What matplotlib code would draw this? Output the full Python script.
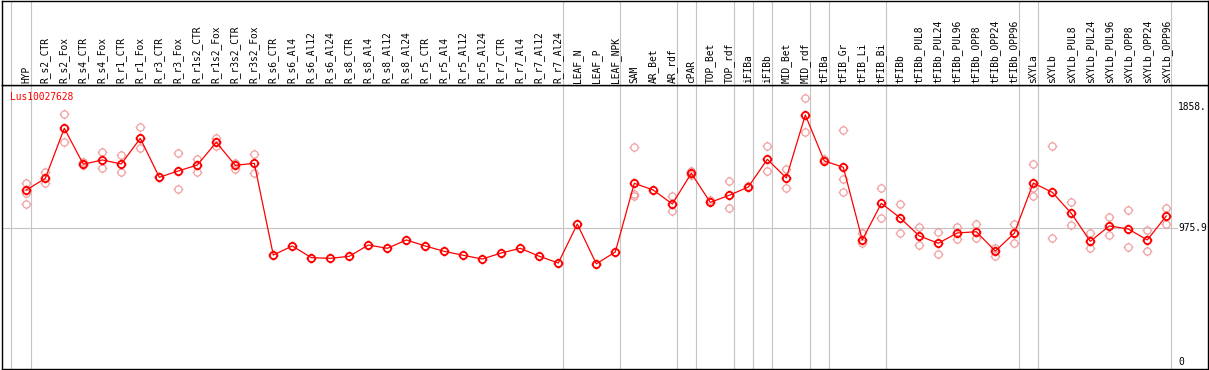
import numpy as np
import matplotlib
matplotlib.use('Agg')
import matplotlib.pyplot as plt
from matplotlib.path import Path

categories = ["HYP", "R_s2_CTR", "R_s2_Fox", "R_s4_CTR", "R_s4_Fox", "R_r1_CTR", "R_r1_Fox",
              "R_r3_CTR", "R_r3_Fox", "R_r1s2_CTR", "R_r1s2_Fox", "R_r3s2_CTR", "R_r3s2_Fox",
              "R_s6_CTR", "R_s6_Al4", "R_s6_Al12", "R_s6_Al24", "R_s8_CTR", "R_s8_Al4",
              "R_s8_Al12", "R_s8_Al24", "R_r5_CTR", "R_r5_Al4", "R_r5_Al12", "R_r5_Al24",
              "R_r7_CTR", "R_r7_Al4", "R_r7_Al12", "R_r7_Al24", "LEAF_N", "LEAF_P", "LEAF_NPK",
              "SAM", "AR_Bet", "AR_rdf", "cPAR", "TOP_Bet", "TOP_rdf", "iFIBa", "iFIBb",
              "MID_Bet", "MID_rdf", "tFIBa", "tFIB_Gr", "tFIB_Li", "tFIB_Bi", "tFIBb",
              "tFIBb_PUL8", "tFIBb_PUL24", "tFIBb_PUL96", "tFIBb_OPP8", "tFIBb_OPP24",
              "tFIBb_OPP96", "sXYLa", "sXYLb", "sXYLb_PUL8", "sXYLb_PUL24", "sXYLb_PUL96",
              "sXYLb_OPP8", "sXYLb_OPP24", "sXYLb_OPP96"]

group_sizes = [1, 28, 3, 3, 1, 2, 1, 1, 2, 1, 3, 7, 1, 7]

means = [1253, 1338, 1703, 1441, 1472, 1443, 1630, 1346, 1392, 1435, 1601, 1433, 1448,
         779, 845, 760, 755, 770, 852, 828, 889, 845, 806, 777, 750, 794, 828, 770, 721,
         1005, 715, 801, 1302, 1253, 1151, 1375, 1163, 1215, 1275, 1477, 1341, 1800,
         1465, 1419, 889, 1156, 1049, 918, 865, 940, 949, 808, 938, 1304, 1236, 1083,
         879, 991, 969, 889, 1064]

replicates = [[1302, 1229, 1149], [1387, 1302], [1805, 1601], [1459, 1435], [1528, 1416],
              [1506, 1382], [1710, 1557], [1350], [1521, 1260], [1477, 1387], [1634, 1576],
              [1452, 1406], [1514, 1379],
              [], [], [], [], [], [], [], [], [], [], [], [], [], [], [], [], [], [], [],
              [1564, 1222, 1212], [], [1207, 1100], [1394, 1362], [1180], [1317, 1122],
              [1282], [1572, 1389], [1404, 1266], [1922, 1678], [1477], [1688, 1331, 1239],
              [937, 865], [1266, 1049], [1149, 940], [983, 852], [945, 787], [981, 898],
              [1005, 901], [833, 774], [1005, 865], [1441, 1266, 1207], [1574, 901],
              [1166, 996], [937, 828], [1056, 923], [1107, 835], [962, 806], [1122, 1003]]

gene_name = "Lus10027628"
axis_labels = ["1858.", "975.9", "0"]
axis_values = [1858.0, 975.9, 0.0]
ref_value = 975.9

W, H = 1209, 370
fig = plt.figure(figsize=(W / 100, H / 100), dpi=100)

left_px, right_px = 1.5, 1207.7
top_plot, bot_plot = 85.0, 369.0
ax = fig.add_axes([left_px / W, (H - bot_plot) / H, (right_px - left_px) / W, (bot_plot - top_plot) / H])
axl = fig.add_axes([left_px / W, (H - top_plot) / H, (right_px - left_px) / W, (top_plot - 0.6) / H])

x0_px, step_px = 26.3, 19.0
xlim = ((left_px - x0_px) / step_px, (right_px - x0_px) / step_px)
zero_px, scale = 361.9, 7.29
ylim = ((zero_px - bot_plot) * scale, (zero_px - top_plot) * scale)

for a in (ax, axl):
    a.set_xlim(*xlim)
    a.set_xticks([])
    a.set_yticks([])
    for s in a.spines.values():
        s.set_linewidth(1.0)
        s.set_color('black')
ax.set_ylim(*ylim)
axl.set_ylim(0, 85)

grey = '#c4c4c4'
bounds = np.concatenate([[0], np.cumsum(group_sizes)]) - 1 + 0.23
bounds[0] = -0.82
for b in bounds:
    ax.axvline(b, color=grey, lw=0.8, zorder=1)
    axl.axvline(b, color=grey, lw=0.8, zorder=1)

ax.axhline(ref_value, xmin=0, xmax=0.9745, color=grey, lw=0.8, zorder=1)

# marker: circle with tiny ticks
circ = Path.unit_circle()
r1, r2 = 1.0, 1.35
tick_paths = [Path([[0, r1], [0, r2]]), Path([[0, -r1], [0, -r2]]),
              Path([[r1, 0], [r2, 0]]), Path([[-r1, 0], [-r2, 0]])]
mk = Path.make_compound_path(circ, *tick_paths)

xs = np.arange(len(categories))
rx = [i for i, r in enumerate(replicates) for _ in r]
ry = [v for r in replicates for v in r]
ax.plot(rx, ry, linestyle='none', marker=mk, markersize=7.0, markerfacecolor='none',
        markeredgecolor='#f0a0a0', markeredgewidth=0.9, zorder=2)
ax.plot(xs, means, color='red', lw=0.9, zorder=3)
ax.plot(xs, means, linestyle='none', marker=mk, markersize=7.0, markerfacecolor='none',
        markeredgecolor='red', markeredgewidth=1.3, zorder=4)

mono = 'DejaVu Sans Mono'
for i, lab in enumerate(categories):
    axl.text(i, 2.2, lab, rotation=90, ha='center', va='bottom', fontsize=6.9,
             family=mono, color='black')

xr = (1178 - x0_px) / step_px
for lab, v in zip(axis_labels, axis_values):
    ax.text(xr, v, lab, ha='left', va='center', fontsize=6.9, family=mono, color='black')

ax.text((10 - x0_px) / step_px, (zero_px - 97) * scale, gene_name, ha='left', va='center',
        fontsize=6.9, family=mono, color='red')

fig.savefig('out.png', dpi=100)
